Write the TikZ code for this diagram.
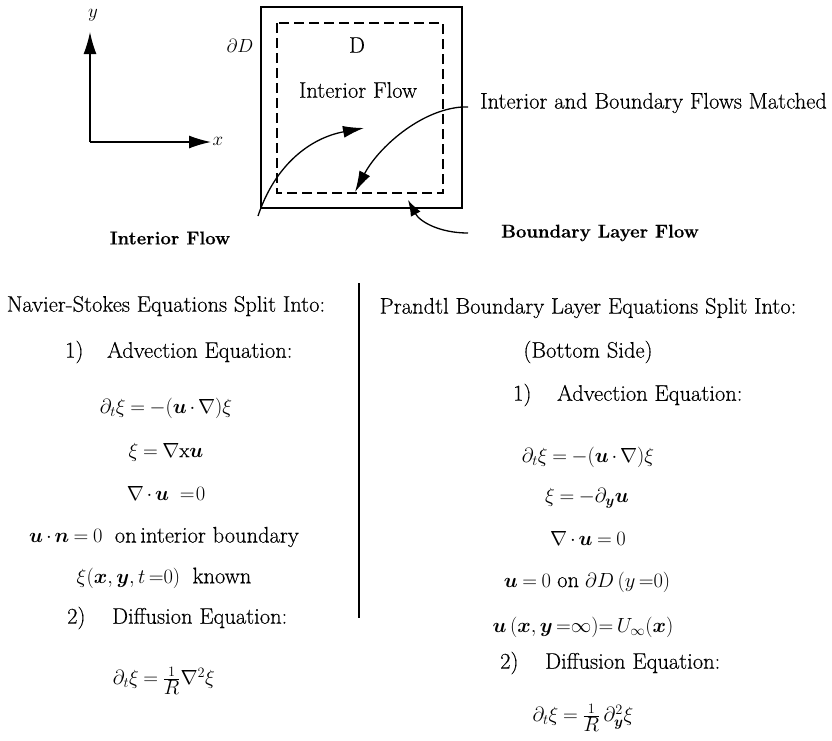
\RequirePackage{fix-cm}
\documentclass[tikz,border=0pt]{standalone}
\usepackage{amsmath,amssymb}
\usepackage{fontspec}
\setmainfont{Latin Modern Roman}[FakeBold=0.4]
\usetikzlibrary{arrows.meta}
\newcommand{\myvu}{\boldsymbol{u}}
\newcommand{\myvn}{\boldsymbol{n}}
\newcommand{\myfr}[2]{\frac{\scriptstyle #1}{\textstyle #2}}
\thickmuskip=4mu plus 2mu
\medmuskip=2.5mu plus 1mu
\begin{document}
\begin{tikzpicture}[x=1pt,y=-1pt,
  txt/.style={font=\fontsize{22.5}{26}\selectfont, inner sep=0pt},
  eq/.style={font=\fontsize{20.5}{24}\selectfont, inner sep=0pt},
  lbl/.style={font=\fontsize{19}{22}\selectfont, inner sep=0pt},
  bld/.style={font=\fontsize{18.5}{22}\selectfont\bfseries, inner sep=0pt},
  line/.style={line width=1.3pt},
  bigtip/.style={-{Latex[length=22pt,width=13pt]}},
  midtip/.style={-{Latex[length=21pt,width=12pt]}},
  smalltip/.style={-{Latex[length=16pt,width=11pt]}}]
\useasboundingbox (0,0) rectangle (832,740);
% axes
\coordinate (O) at (90,142);
\coordinate (ytip) at (90,32);
\coordinate (xtip) at (211,142);
\draw[line,bigtip] (O) -- (ytip);
\draw[line,bigtip] (O) -- (xtip);
\node[lbl] (ylab) at (93,15) {$y$};
\node[lbl] (xlab) at (218,141) {$x$};
% domain
\draw[line width=1.6pt] (261,7) rectangle (462,208);
\draw[line width=1.3pt, dash pattern=on 10pt off 5pt] (277,23) rectangle (443,193);
\node[lbl] (dD) at (240,46) {$\partial D$};
\node[txt] (D) at (357,45) {D};
\node[txt] (intin) at (358,90) {Interior Flow};
% flow curves
\coordinate (c1s) at (258,216);
\coordinate (c1e) at (364,128);
\draw[line,midtip] (c1s) .. controls (275,165) and (310,138) .. (c1e);
\coordinate (c2s) at (468,107);
\coordinate (c2e) at (355,192);
\draw[line,midtip] (c2s) -- (462,107) .. controls (420,110) and (378,148) .. (c2e);
\coordinate (c3s) at (468,233);
\coordinate (c3e) at (408,200);
\draw[line,smalltip] (c3s) .. controls (440,233) and (420,222) .. (c3e);
\node[txt, anchor=west] (matched) at (480,103) {Interior and Boundary Flows Matched};
\node[bld] (blf) at (600,233) {Boundary Layer Flow};
\node[bld] (iflow) at (170,238) {Interior Flow};
% divider
\coordinate (divt) at (359,283);
\coordinate (divb) at (359,618);
\draw[line width=1.4pt] (divt) -- (divb);
% left column
\node[txt] (ns) at (166,306) {Navier-Stokes Equations Split Into:};
\node[txt, anchor=west] (l1n) at (65,352) {1)};
\node[txt, anchor=west] (l1t) at (107,352) {Advection Equation:};
\node[eq] (le1) at (166,408) {$\partial_t\xi = -(\myvu\cdot\nabla)\xi$};
\node[eq] (le2) at (166,452) {$\xi = \nabla\mathrm{x}\myvu$};
\node[eq] (le3) at (166,493) {$\nabla\cdot\myvu\ =\!0$};
\node[eq] (le4) at (164,537) {$\myvu\cdot\myvn = 0$\ \ {\fontsize{22.5}{26}\selectfont on\,interior boundary}};
\node[eq] (le5) at (164,578) {$\xi(\boldsymbol{x},\boldsymbol{y},t\,{=}0)$\ \ {\fontsize{22.5}{26}\selectfont known}};
\node[txt, anchor=west] (l2n) at (67,618) {2)};
\node[txt, anchor=west] (l2t) at (112,618) {Diffusion Equation:};
\node[eq] (le6) at (164,681) {$\partial_t\xi = \myfr{1}{R}\nabla^2\xi$};
% right column
\node[txt] (pr) at (588,308) {Prandtl Boundary Layer Equations Split Into:};
\node[txt] (bs) at (588,352) {(Bottom Side)};
\node[txt, anchor=west] (r1n) at (513,395) {1)};
\node[txt, anchor=west] (r1t) at (557,395) {Advection Equation:};
\node[eq] (re1) at (588,457) {$\partial_t\xi = -(\myvu\cdot\nabla)\xi$};
\node[eq] (re2) at (587,498) {$\xi = -\partial_{\boldsymbol{y}}\myvu$};
\node[eq] (re3) at (588,538) {$\nabla\cdot\myvu = 0$};
\node[eq] (re4) at (587,582) {$\myvu = 0$\ {\fontsize{22.5}{26}\selectfont on} $\partial D\,(y\,{=}0)$};
\node[eq] (re5) at (583,627) {$\myvu\,(\boldsymbol{x},\boldsymbol{y}\,{=}\infty){=}\,U_{\infty}(\boldsymbol{x})$};
\node[txt, anchor=west] (r2n) at (500,663) {2)};
\node[txt, anchor=west] (r2t) at (545,663) {Diffusion Equation:};
\node[eq] (re6) at (583,718) {$\partial_t\xi = \myfr{1}{R}\,\partial_{\boldsymbol{y}}^2\xi$};
\end{tikzpicture}
\end{document}
